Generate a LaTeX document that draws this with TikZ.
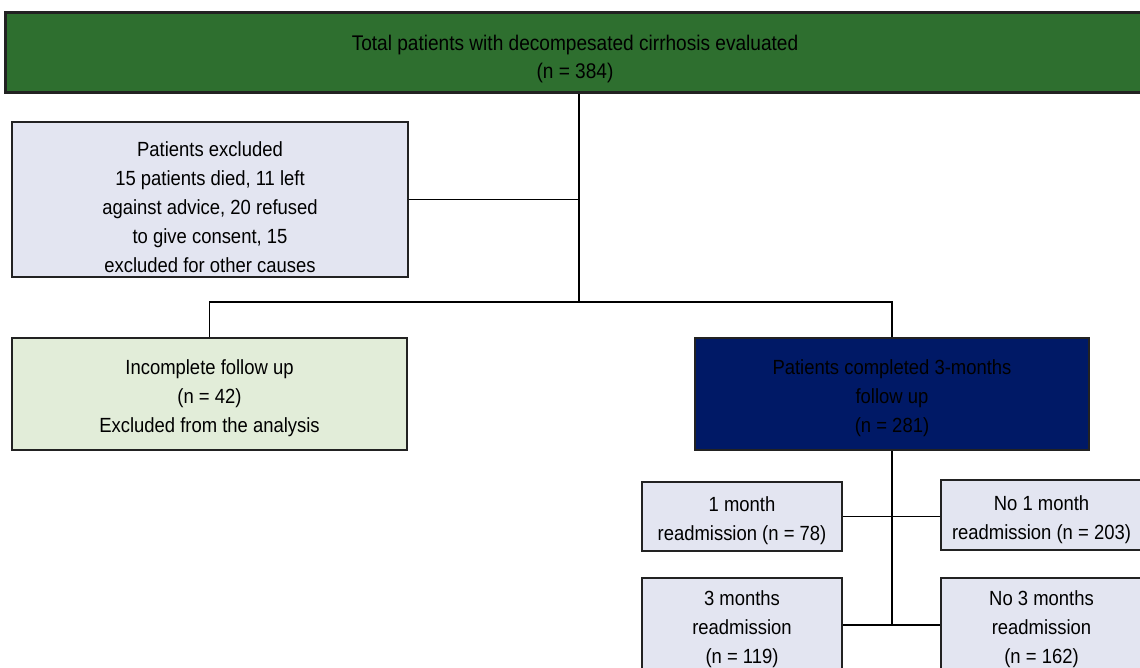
\documentclass[tikz,border=0pt]{standalone}
\usepackage{fontspec}
\setmainfont{Liberation Sans}[FakeStretch=0.9]
\usepackage{tikz}
\usetikzlibrary{positioning,calc}
\definecolor{topgreen}{HTML}{2E6F2F}
\definecolor{lilac}{HTML}{E3E5F1}
\definecolor{sage}{HTML}{E2EDD9}
\definecolor{navyfill}{HTML}{001966}
\definecolor{rim}{HTML}{222222}
% pushes the text of a box a little down
\newcommand{\padtop}[1][24pt]{\rule{0pt}{#1}}

\begin{document}
\begin{tikzpicture}[
  x=1pt,y=-1pt,
  box/.style={draw=rim,line width=2pt,fill=lilac,align=center,
              inner sep=0pt,font=\fontsize{20.5}{29}\selectfont},
  link/.style={draw=black,line width=1.1pt}
]
\useasboundingbox (0,0) rectangle (1140,668);
\node[box,fill=topgreen,line width=3pt,minimum width=1140pt,minimum height=80pt,
      font=\fontsize{21.2}{28}\selectfont] (total) at (575,53)
  {\padtop[27pt]Total patients with decompesated cirrhosis evaluated\\(n = 384)};
\node[box,minimum width=396pt,minimum height=155pt] (excl) at (210,199.5)
  {\padtop[31pt]Patients excluded\\15 patients died, 11 left\\against advice, 20 refused\\to give consent, 15\\excluded for other causes};
\node[box,fill=sage,minimum width=395pt,minimum height=112pt] (lost) at (209.5,394)
  {\padtop Incomplete follow up\\(n = 42)\\Excluded from the analysis};
\node[box,fill=navyfill,minimum width=394pt,minimum height=112pt] (done) at (892,394)
  {\padtop Patients completed 3-months\\follow up\\(n = 281)};
\node[box,minimum width=200pt,minimum height=69pt] (readm1) at (742,516.5)
  {\padtop 1 month\\readmission (n = 78)};
\node[box,minimum width=201pt,minimum height=70pt] (noreadm1) at (1041.5,515)
  {\padtop No 1 month\\readmission (n = 203)};
\node[box,minimum width=200pt,minimum height=94pt] (readm3) at (742,625)
  {\padtop 3 months\\readmission\\(n = 119)};
\node[box,minimum width=201pt,minimum height=94pt] (noreadm3) at (1041.5,625)
  {\padtop No 3 months\\readmission\\(n = 162)};

% connectors
\coordinate (split) at (579,302);
\draw[link] (total.south -| split) -- (split);
\draw[link] (excl.east) -- (excl.east -| split);
\draw[link] (lost.north) |- (split) -| (done.north);
\draw[link] (done.south) -- (done.south |- readm3.east);
\draw[link] (readm1.east) -- (noreadm1.west |- readm1.east);
\draw[link] (readm3.east) -- (noreadm3.west);
\end{tikzpicture}
\end{document}
